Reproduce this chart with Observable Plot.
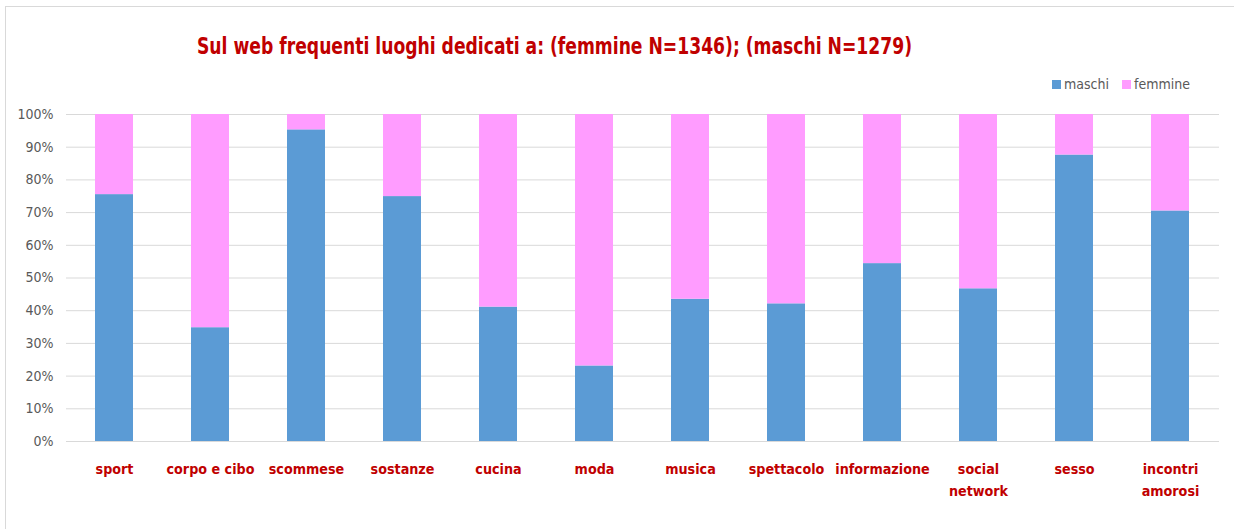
<!DOCTYPE html>
<html>
<head>
<meta charset="utf-8">
<script src="https://cdn.jsdelivr.net/npm/d3@7"></script>
<script src="https://cdn.jsdelivr.net/npm/@observablehq/plot@0.6"></script>
<style>
  html, body { margin: 0; padding: 0; background: #fff; }
  #wrap { position: relative; width: 1234px; height: 529px; overflow: hidden; background: #fff; }
  #frame { position: absolute; left: 5px; top: 6px; width: 1240px; height: 540px; border: 1px solid #d9d9d9; box-sizing: border-box; }
  #title { position: absolute; left: 197px; top: 33px; font-family: "DejaVu Sans Condensed", "Liberation Sans", sans-serif; font-weight: bold; font-size: 23px; color: #C00000; white-space: nowrap; transform: scaleX(0.83); transform-origin: 0 0; }
  #legend { position: absolute; left: 1052px; top: 76px; font-family: "DejaVu Sans Condensed", "Liberation Sans", sans-serif; font-size: 14px; color: #595959; white-space: nowrap; }
  #legend span.sw { display: inline-block; width: 9px; height: 9px; margin-right: 3px; vertical-align: 0px; }
  #legend span.item { margin-right: 13px; }
  #chart { position: absolute; left: 0; top: 0; }
</style>
</head>
<body>
<div id="wrap">
  <div id="frame"></div>
  <div id="chart"></div>
  <div id="title"></div>
  <div id="legend"></div>
</div>
<script>
const titleText = "Sul web frequenti luoghi dedicati a: (femmine N=1346); (maschi N=1279)";
const categories = ["sport", "corpo e cibo", "scommese", "sostanze", "cucina", "moda", "musica", "spettacolo", "informazione", "social\nnetwork", "sesso", "incontri\namorosi"];
const series = ["maschi", "femmine"];
const maschi  = [75.5, 34.8, 95.3, 74.9, 41.1, 23.1, 43.5, 42.1, 54.4, 46.7, 87.6, 70.5];
const femmine = [24.5, 65.2, 4.7, 25.1, 58.9, 76.9, 56.5, 57.9, 45.6, 53.3, 12.4, 29.5];
const yTicks = [0, 10, 20, 30, 40, 50, 60, 70, 80, 90, 100];
const colors = ["#5B9BD5", "#FF9CFF"];

const data = [];
categories.forEach((c, i) => data.push({cat: c, serie: "maschi", value: maschi[i]}));
categories.forEach((c, i) => data.push({cat: c, serie: "femmine", value: femmine[i]}));

document.getElementById("title").textContent = titleText;
const leg = document.getElementById("legend");
series.forEach((s, i) => {
  const item = document.createElement("span");
  item.className = "item";
  const sw = document.createElement("span");
  sw.className = "sw";
  sw.style.background = colors[i];
  item.appendChild(sw);
  item.appendChild(document.createTextNode(s));
  leg.appendChild(item);
});

const fontStack = '"DejaVu Sans Condensed", "Liberation Sans", sans-serif';

const chart = Plot.plot({
  width: 1234,
  height: 529,
  marginTop: 114,
  marginBottom: 88,
  marginLeft: 66,
  marginRight: 15,
  style: {fontFamily: fontStack, background: "transparent", overflow: "visible"},
  x: {domain: categories, paddingInner: 0.6, paddingOuter: 0.3, label: null},
  y: {domain: [0, 100], label: null},
  color: {domain: series, range: colors},
  marks: [
    Plot.gridY(yTicks, {stroke: "#d9d9d9", strokeOpacity: 1, strokeWidth: 1}),
    Plot.barY(data, Plot.stackY({x: "cat", y: "value", fill: "serie", order: series, inset: 0})),
    Plot.axisY(yTicks, {tickSize: 0, tickPadding: 13, tickFormat: d => d + "%", fill: "#595959", fontSize: 14}),
    Plot.axisX({tickSize: 0, tickPadding: 16, fill: "#C00000", fontSize: 14.2, fontWeight: "bold", lineHeight: 1.6})
  ]
});
document.getElementById("chart").appendChild(chart);
</script>
</body>
</html>
